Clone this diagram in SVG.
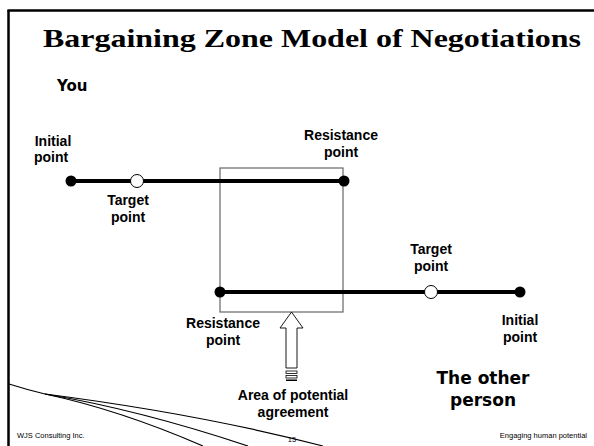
<svg xmlns="http://www.w3.org/2000/svg" width="594" height="446" viewBox="0 0 594 446">
  <style>
    .lbl { font-family: "Liberation Sans", Arial, sans-serif; font-weight: bold; font-size: 14px; fill: #000; text-anchor: middle; }
    .party { font-family: "Comic Sans MS", "DejaVu Sans", sans-serif; font-weight: bold; fill: #000; }
    .foot { font-family: "Liberation Sans", Arial, sans-serif; font-size: 7.5px; fill: #000; }
    .scale { stroke: #000; stroke-width: 4; }
    .dot { fill: #000; }
    .target { fill: #fff; stroke: #000; stroke-width: 1; }
    .swoosh { fill: none; stroke: #000; stroke-width: 1.2; }
  </style>

  <rect width="594" height="446" fill="#fff"/>

  <!-- slide frame -->
  <g id="frame" fill="none" stroke="#000" stroke-width="2.5">
    <line x1="8.5" y1="10" x2="8.5" y2="446"/>
    <line x1="7.5" y1="10.5" x2="594" y2="10.5"/>
  </g>

  <text x="312" y="47" font-family="'Liberation Serif', 'Times New Roman', serif" font-weight="bold" font-size="26" text-anchor="middle" textLength="538" lengthAdjust="spacingAndGlyphs">Bargaining Zone Model of Negotiations</text>

  <text class="party" x="57" y="91" font-size="15">You</text>

  <!-- zone of overlap -->
  <g id="zone">
    <rect x="220" y="168" width="123" height="144" fill="none" stroke="#666" stroke-width="1.2"/>
  </g>

  <g id="connectors">
    <line class="scale" x1="71" y1="181" x2="344" y2="181"/>
    <line class="scale" x1="220" y1="292" x2="520" y2="292"/>
  </g>

  <!-- your scale -->
  <g id="you-initial">
    <circle class="dot" cx="71" cy="181" r="5.5"/>
    <text class="lbl" x="53" y="146">Initial</text>
    <text class="lbl" x="51" y="162">point</text>
  </g>
  <g id="you-target">
    <circle class="target" cx="137" cy="181" r="6.5"/>
    <text class="lbl" x="128" y="205">Target</text>
    <text class="lbl" x="128" y="222">point</text>
  </g>
  <g id="you-resistance">
    <circle class="dot" cx="344" cy="181" r="5.5"/>
    <text class="lbl" x="341" y="140">Resistance</text>
    <text class="lbl" x="341" y="157">point</text>
  </g>

  <!-- other party's scale -->
  <g id="other-resistance">
    <circle class="dot" cx="220" cy="292" r="5.5"/>
    <text class="lbl" x="223" y="328">Resistance</text>
    <text class="lbl" x="223" y="345">point</text>
  </g>
  <g id="other-target">
    <circle class="target" cx="431" cy="292" r="6.5"/>
    <text class="lbl" x="431" y="254">Target</text>
    <text class="lbl" x="431" y="271">point</text>
  </g>
  <g id="other-initial">
    <circle class="dot" cx="520" cy="292" r="5.5"/>
    <text class="lbl" x="520" y="325">Initial</text>
    <text class="lbl" x="520" y="342">point</text>
  </g>

  <!-- hollow pointer toward the overlap -->
  <g id="agreement">
    <path d="M291.5,312 L303,328 L297,328 L297,368 L286,368 L286,328 L280,328 Z" fill="#fff" stroke="#000" stroke-width="0.9"/>
    <rect x="286" y="371" width="11" height="2.5" fill="#fff" stroke="#000" stroke-width="0.8"/>
    <rect x="286" y="375.5" width="11" height="2.5" fill="#fff" stroke="#000" stroke-width="0.8"/>
    <rect x="286" y="379.5" width="11" height="1.5" fill="#000"/>
    <text class="lbl" x="293" y="400">Area of potential</text>
    <text class="lbl" x="293" y="417">agreement</text>
  </g>

  <text class="party" x="483" y="384" font-size="17" text-anchor="middle">The other</text>
  <text class="party" x="483" y="406" font-size="17" text-anchor="middle">person</text>

  <!-- decorative swoosh -->
  <g id="swoosh">
    <path class="swoosh" d="M9,384 Q28,390 45,394 Q200,414 323,446"/>
    <path class="swoosh" d="M45,394 Q140,410 248,446"/>
    <path class="swoosh" d="M45,394 Q120,410 203,446"/>
  </g>

  <text class="foot" x="17" y="438">WJS Consulting Inc.</text>
  <text class="foot" x="292" y="442" font-size="7" text-anchor="middle">15</text>
  <text class="foot" x="587" y="438" text-anchor="end">Engaging human potential</text>
</svg>
